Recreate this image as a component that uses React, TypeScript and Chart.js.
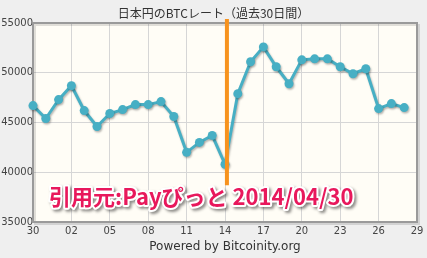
import React, { useEffect, useRef } from "react";
import { Chart, registerables } from "chart.js";

Chart.register(...registerables);

const dates = [
  "03/30", "03/31", "04/01", "04/02", "04/03", "04/04", "04/05", "04/06", "04/07", "04/08",
  "04/09", "04/10", "04/11", "04/12", "04/13", "04/14", "04/15", "04/16", "04/17", "04/18",
  "04/19", "04/20", "04/21", "04/22", "04/23", "04/24", "04/25", "04/26", "04/27", "04/28",
];
const btcJpy = [
  46700, 45400, 47300, 48700, 46200, 44600, 45900, 46300, 46800, 46800,
  47100, 45600, 42000, 43000, 43700, 40800, 47900, 51100, 52600, 50600,
  48900, 51300, 51400, 51400, 50600, 49900, 50400, 46400, 46900, 46500,
];
const xTickLabels = ["30", "02", "05", "08", "11", "14", "17", "20", "23", "26", "29"];
const yTicks = [35000, 40000, 45000, 50000, 55000];
const markerDay = [15.15, 15.15];
const markerRange = [55400, 38700];

const titleText = "日本円のBTCレート（過去30日間）";
const footerText = "Powered by Bitcoinity.org";
const noteText = "引用元:Payぴっと 2014/04/30";

const bgPlugin = {
  id: "bg",
  beforeDraw(chart: any) {
    const { ctx, chartArea: a, width, height } = chart;
    ctx.save();
    ctx.fillStyle = "#efefef";
    ctx.fillRect(0, 0, width, height);
    ctx.fillStyle = "#fffdf6";
    ctx.fillRect(a.left, a.top, a.right - a.left, a.bottom - a.top);
    ctx.restore();
  },
  beforeDatasetsDraw(chart: any) {
    const { ctx, chartArea: a } = chart;
    ctx.save();
    ctx.strokeStyle = "rgba(0,0,0,0.12)";
    ctx.lineWidth = 2;
    ctx.strokeRect(a.left + 2, a.top + 2, a.right - a.left, a.bottom - a.top);
    ctx.strokeStyle = "#9a9a9a";
    ctx.lineWidth = 2;
    ctx.strokeRect(a.left, a.top, a.right - a.left, a.bottom - a.top);
    ctx.restore();
  },
  beforeDatasetDraw(chart: any, args: any) {
    if (args.index === 1) {
      const ctx = chart.ctx;
      ctx.save();
      ctx.shadowColor = "rgba(0,0,0,0.28)";
      ctx.shadowOffsetX = 1;
      ctx.shadowOffsetY = 1.5;
      ctx.shadowBlur = 2;
    }
  },
  afterDatasetDraw(chart: any, args: any) {
    if (args.index === 1) chart.ctx.restore();
  },
  afterDraw(chart: any) {
    const { ctx, chartArea: a, width } = chart;
    ctx.save();
    ctx.fillStyle = "#333";
    ctx.textAlign = "center";
    ctx.textBaseline = "middle";
    ctx.font = '12px "Noto Sans CJK JP"';
    ctx.fillText(titleText, width / 2, 13);
    ctx.font = '12px "DejaVu Sans"';
    ctx.fillText(footerText, (a.left + a.right) / 2, 247);

    ctx.font = 'bold 22px "Noto Sans CJK JP"';
    ctx.textAlign = "left";
    ctx.textBaseline = "middle";
    const tx = a.left + 16;
    const ty = a.bottom - 25;
    ctx.lineJoin = "round";
    ctx.shadowColor = "rgba(0,0,0,0.45)";
    ctx.shadowOffsetX = 2;
    ctx.shadowOffsetY = 2;
    ctx.shadowBlur = 3;
    ctx.strokeStyle = "#ffffff";
    ctx.lineWidth = 4;
    ctx.strokeText(noteText, tx, ty);
    ctx.shadowColor = "transparent";
    ctx.fillStyle = "#e8185c";
    ctx.fillText(noteText, tx, ty);
    ctx.restore();
  },
};

export default function App() {
  const ref = useRef<HTMLCanvasElement | null>(null);
  useEffect(() => {
    document.body.style.margin = "0";
    const chart = new Chart(ref.current as HTMLCanvasElement, {
      type: "line",
      data: {
        datasets: [
          {
            label: "marker",
            data: markerDay.map((x, i) => ({ x, y: markerRange[i] })),
            borderColor: "#f7931e",
            borderWidth: 4,
            pointRadius: 0,
            clip: false as any,
            order: 0,
          },
          {
            label: "BTC/JPY",
            data: btcJpy.map((y, i) => ({ x: i, y })),
            borderColor: "#47afc4",
            backgroundColor: "#47afc4",
            borderWidth: 3,
            pointRadius: 4.5,
            pointBorderWidth: 0,
            pointBackgroundColor: "#47afc4",
            tension: 0,
            clip: false as any,
            order: 1,
          },
        ],
      },
      options: {
        animation: false,
        responsive: false,
        layout: { padding: { left: 0, right: 10, top: 23, bottom: 20 } },
        plugins: {
          legend: { display: false },
          tooltip: { enabled: false },
          title: { display: false },
        },
        scales: {
          x: {
            type: "linear",
            min: 0,
            max: 30,
            afterBuildTicks(scale: any) {
              scale.ticks = xTickLabels.map((_, i) => ({ value: i * 3 }));
            },
            afterFit(scale: any) {
              scale.height = 16;
            },
            ticks: {
              autoSkip: false,
              maxRotation: 0,
              padding: 3,
              color: "#444",
              font: { family: "DejaVu Sans", size: 10 },
              callback: (v: any) => xTickLabels[Math.round(Number(v) / 3)] ?? "",
            },
            grid: { color: "#d6d6d6", drawTicks: false, lineWidth: 1 },
            border: { display: false },
          },
          y: {
            type: "linear",
            min: yTicks[0],
            max: yTicks[yTicks.length - 1],
            afterBuildTicks(scale: any) {
              scale.ticks = yTicks.map((value) => ({ value }));
            },
            afterFit(scale: any) {
              scale.width = 33;
            },
            ticks: {
              padding: 0,
              color: "#444",
              font: { family: "DejaVu Sans", size: 10 },
              callback: (v: any) => String(v),
            },
            grid: { color: "#d6d6d6", drawTicks: false, lineWidth: 1 },
            border: { display: false },
          },
        },
      },
      plugins: [bgPlugin],
    });
    return () => chart.destroy();
  }, []);
  return <canvas ref={ref} width={427} height={258} style={{ display: "block" }} />;
}
